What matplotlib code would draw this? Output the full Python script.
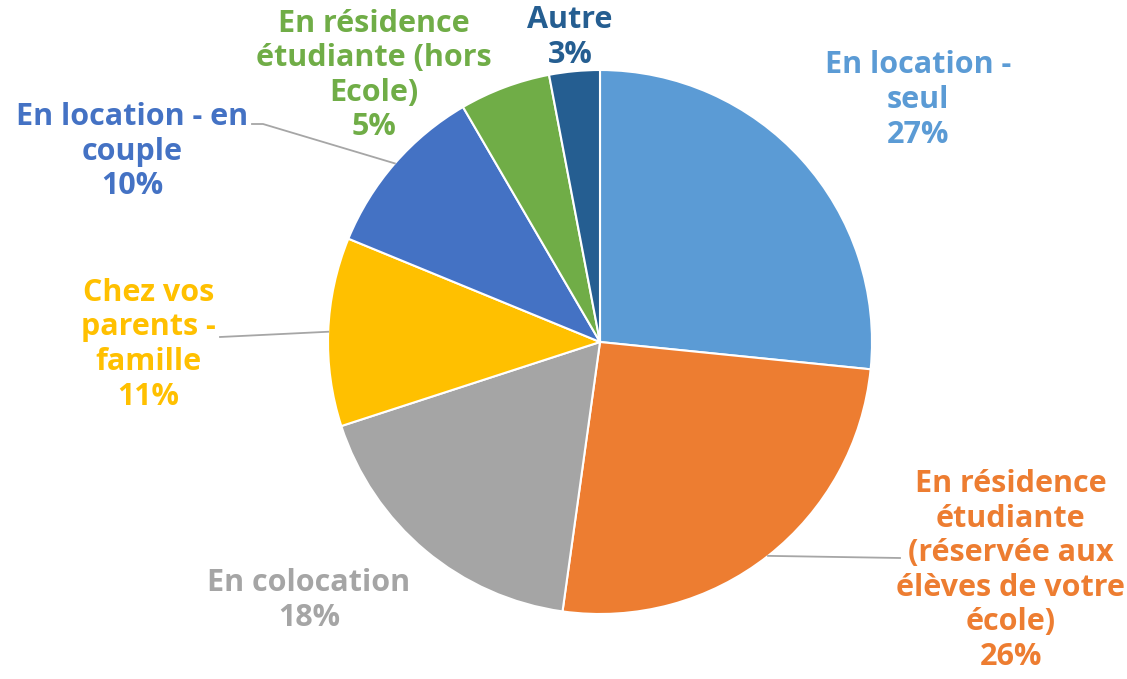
import numpy as np
import matplotlib.pyplot as plt

labels = ["En location -\nseul",
          "En résidence\nétudiante\n(réservée aux\nélèves de votre\nécole)",
          "En colocation",
          "Chez vos\nparents -\nfamille",
          "En location - en\ncouple",
          "En résidence\nétudiante (hors\nEcole)",
          "Autre"]
values = [26.6, 25.6, 17.8, 11.2, 10.4, 5.4, 3.0]
colors = ['#5B9BD5', '#ED7D31', '#A5A5A5', '#FFC000', '#4472C4', '#70AD47', '#255E91']

# label centres (pie radius = 1)
label_pos = [(1.17, 0.89), (1.51, -0.84), (-1.07, -0.95), (-1.66, -0.01),
             (-1.72, 0.70), (-0.83, 0.98), (-0.11, 1.12)]

fig = plt.figure(figsize=(11.27, 6.79), dpi=100)
ax = fig.add_axes([0, 0, 1, 1])

wedges, _ = ax.pie(values, colors=colors, startangle=90, counterclock=False,
                   radius=1, center=(0, 0), frame=True,
                   wedgeprops=dict(edgecolor='white', linewidth=1.5))
ax.set_xlim(-600 / 272, 527 / 272)
ax.set_ylim(-337 / 272, 342 / 272)
ax.axis('off')

total = sum(values)
for i, (lab, v) in enumerate(zip(labels, values)):
    x, y = label_pos[i]
    ax.text(x, y, f"{lab}\n{round(v / total * 100)}%", ha='center', va='center',
            color=colors[i], fontsize=22, fontweight='bold', family='Open Sans',
            linespacing=1.2)

# leader lines to slice middles
cum = np.cumsum(values) / total
mids = (np.concatenate([[0], cum[:-1]]) + cum) / 2
def edge(i):
    a = np.deg2rad(mids[i] * 360)
    return np.sin(a), np.cos(a)

ex, ey = edge(1)
ax.plot([(900 - 600) / 272, ex], [(342 - 558) / 272, ey], color='#A6A6A6', lw=1.3)
ex, ey = edge(3)
ax.plot([(220 - 600) / 272, ex], [(342 - 337) / 272, ey], color='#A6A6A6', lw=1.3)
ex, ey = edge(4)
ax.plot([(252 - 600) / 272, (263 - 600) / 272, ex],
        [(342 - 124) / 272, (342 - 124) / 272, ey], color='#A6A6A6', lw=1.3)

fig.savefig('out.png', dpi=100)
